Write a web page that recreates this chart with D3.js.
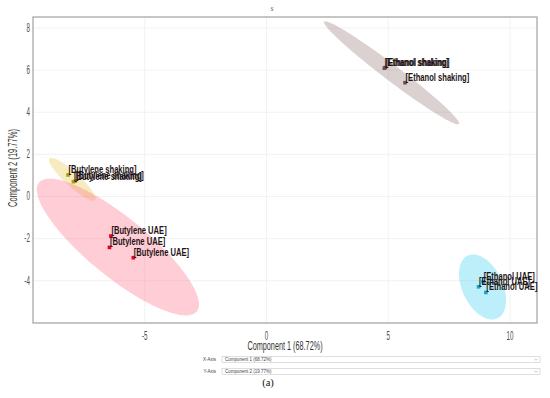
<!DOCTYPE html>
<html>
<head>
<meta charset="utf-8">
<script src="https://cdn.jsdelivr.net/npm/d3@7"></script>
<style>
  html, body { margin: 0; padding: 0; background: #fff; }
  svg { display: block; }
</style>
</head>
<body>
<svg id="chart" width="550" height="398"></svg>
<script>
// ---------------- DATA ----------------
const groups = ["Butylene shaking", "Butylene UAE", "Ethanol shaking", "Ethanol UAE"];
const groupColors = ["#b39b00", "#e6001a", "#6e4e4e", "#1aa3d9"];
const ellipseColors = ["#e6c84a", "#ff6f8a", "#9c7c7c", "#40d0f0"];

const pointGroup = [0, 0, 0, 1, 1, 1, 2, 2, 2, 3, 3, 3];
const pointX = [-8.13, -7.91, -7.83, -6.37, -6.43, -5.45, 4.86, 4.90, 5.71, 8.73, 8.92, 9.03];
const pointY = [1.00, 0.68, 0.71, -1.90, -2.44, -2.93, 6.07, 6.10, 5.38, -4.31, -4.07, -4.58];

// confidence-ellipse conjugate semi-axes, in data units (one per group)
const ellipseMajorX = [0.94, 3.24, 2.77, 0.61];
const ellipseMajorY = [-0.99, -3.06, -2.43, -1.49];
const ellipseMinorX = [-0.19, -0.77, -0.20, -0.75];
const ellipseMinorY = [-0.25, -1.09, -0.30, -0.41];

const xTicks = [-5, 0, 5, 10];
const yTicks = [-4, -2, 0, 2, 4, 6, 8];
const xDomain = [-9.57, 11.13];
const yDomain = [-6.03, 8.5];

const chartTitle = "s";
const xTitle = "Component 1 (68.72%)";
const yTitle = "Component 2 (19.77%)";
const xSelectText = "Component 1 (68.72%)";
const ySelectText = "Component 2 (19.77%)";
const caption = "(a)";

// ---------------- LAYOUT ----------------
const W = 550, H = 398;
const m = { left: 33, top: 17, right: 13, bottom: 75 };
const pw = W - m.left - m.right, ph = H - m.top - m.bottom;
const FONT = "'Liberation Sans', Arial, sans-serif";

const svg = d3.select("#chart");
const x = d3.scaleLinear().domain(xDomain).range([m.left, m.left + pw]);
const y = d3.scaleLinear().domain(yDomain).range([m.top + ph, m.top]);

// grid
const grid = svg.append("g");
grid.append("g").attr("transform", `translate(0,${m.top + ph})`)
  .call(d3.axisBottom(x).tickValues(xTicks).tickSize(-ph).tickFormat(""))
  .call(g => g.select(".domain").remove())
  .call(g => g.selectAll("line").attr("stroke", "#efefef").attr("stroke-width", 0.8));
grid.append("g").attr("transform", `translate(${m.left},0)`)
  .call(d3.axisLeft(y).tickValues(yTicks).tickSize(-pw).tickFormat(""))
  .call(g => g.select(".domain").remove())
  .call(g => g.selectAll("line").attr("stroke", "#efefef").attr("stroke-width", 0.8));

// ellipses
const line = d3.line().curve(d3.curveLinearClosed);
const ellG = svg.append("g");
groups.forEach((gname, gi) => {
  const idx = pointGroup.map((g, i) => g === gi ? i : -1).filter(i => i >= 0);
  const cx = d3.mean(idx, i => pointX[i]);
  const cy = d3.mean(idx, i => pointY[i]);
  const pts = d3.range(120).map(k => {
    const t = k / 120 * 2 * Math.PI;
    const dx = cx + ellipseMajorX[gi] * Math.cos(t) + ellipseMinorX[gi] * Math.sin(t);
    const dy = cy + ellipseMajorY[gi] * Math.cos(t) + ellipseMinorY[gi] * Math.sin(t);
    return [x(dx), y(dy)];
  });
  ellG.append("path").attr("d", line(pts))
    .attr("fill", ellipseColors[gi]).attr("fill-opacity", 0.35).attr("stroke", "none");
});

// panel border
svg.append("rect").attr("x", m.left).attr("y", m.top).attr("width", pw).attr("height", ph)
  .attr("fill", "none").attr("stroke", "#a8a8a8").attr("stroke-width", 1.3);

// axes
const xAx = svg.append("g").attr("transform", `translate(0,${m.top + ph})`)
  .call(d3.axisBottom(x).tickValues(xTicks).tickSize(0).tickPadding(8).tickFormat(d => String(d)));
xAx.select(".domain").remove();
xAx.selectAll("text").attr("font-family", FONT).attr("font-size", 12).attr("fill", "#4d4d4d")
  .attr("transform", "scale(0.52,1)");

const yAx = svg.append("g").attr("transform", `translate(${m.left},0)`)
  .call(d3.axisLeft(y).tickValues(yTicks).tickSize(0).tickPadding(6).tickFormat(d => String(d)));
yAx.select(".domain").remove();
yAx.selectAll("text").attr("font-family", FONT).attr("font-size", 12).attr("fill", "#4d4d4d")
  .attr("transform", "scale(0.52,1)");

// axis titles
svg.append("text").attr("transform", `translate(${m.left + pw / 2},350) scale(0.56,1)`)
  .attr("text-anchor", "middle").attr("font-family", FONT).attr("font-size", 13)
  .attr("fill", "#333").text(xTitle);
svg.append("text").attr("transform", `translate(17,${m.top + ph / 2 - 2}) rotate(-90) scale(0.58,1)`)
  .attr("text-anchor", "middle").attr("font-family", FONT).attr("font-size", 13)
  .attr("fill", "#333").text(yTitle);

// chart title
svg.append("text").attr("x", 272).attr("y", 11).attr("text-anchor", "middle")
  .attr("font-family", "'Liberation Serif', serif").attr("font-style", "italic")
  .attr("font-size", 8).attr("fill", "#666").text(chartTitle);

// points
svg.append("g").selectAll("rect").data(pointX.map((v, i) => i)).join("rect")
  .attr("x", i => x(pointX[i]) - 1.8).attr("y", i => y(pointY[i]) - 1.8)
  .attr("width", 3.6).attr("height", 3.6)
  .attr("fill", i => groupColors[pointGroup[i]]);

// labels
svg.append("g").selectAll("text").data(pointX.map((v, i) => i)).join("text")
  .attr("transform", i => `translate(${x(pointX[i]) + 0.5},${y(pointY[i]) - 2}) scale(0.76,1)`)
  .attr("font-family", FONT).attr("font-size", 10).attr("font-weight", "bold")
  .attr("fill", "#1e1414")
  .text(i => `[${groups[pointGroup[i]]}]`);

// bottom controls
function selectBox(label, text, yy) {
  svg.append("text").attr("x", 216).attr("y", yy + 4.5).attr("text-anchor", "end")
    .attr("font-family", FONT).attr("font-size", 4.5).attr("fill", "#444").text(label);
  svg.append("rect").attr("x", 222).attr("y", yy).attr("width", 318).attr("height", 6)
    .attr("fill", "#fff").attr("stroke", "#c8c8c8").attr("stroke-width", 0.6);
  svg.append("text").attr("x", 225).attr("y", yy + 4.4)
    .attr("font-family", FONT).attr("font-size", 4.5).attr("fill", "#444").text(text);
  svg.append("path").attr("d", `M534.5,${yy + 2.3} L536,${yy + 3.8} L537.5,${yy + 2.3}`)
    .attr("fill", "none").attr("stroke", "#888").attr("stroke-width", 0.5);
}
selectBox("X-Axis", xSelectText, 356.5);
selectBox("Y-Axis", ySelectText, 368.5);

svg.append("text").attr("x", 268).attr("y", 386).attr("text-anchor", "middle")
  .attr("font-family", "'Liberation Serif', 'Times New Roman', serif").attr("font-size", 10.5)
  .attr("fill", "#111").text(caption);
</script>
</body>
</html>
